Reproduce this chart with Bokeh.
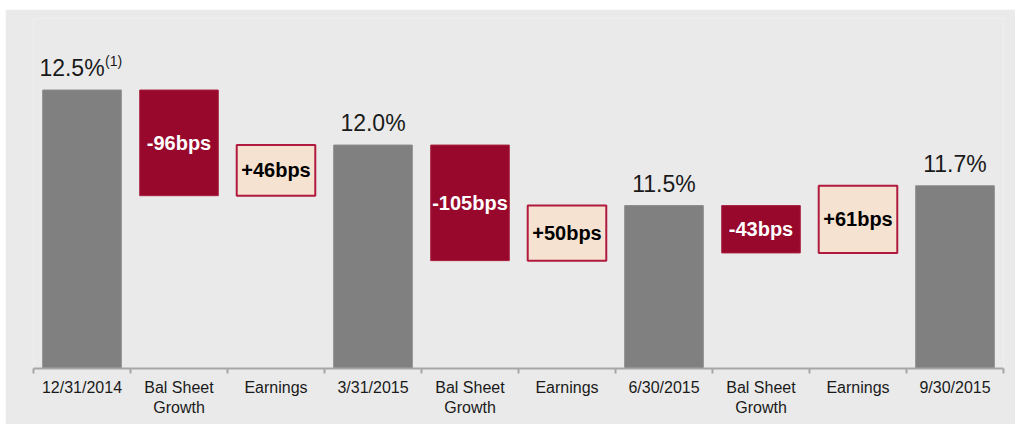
from bokeh.plotting import figure
from bokeh.models import Range1d, FixedTicker, ColumnDataSource, Spacer
from bokeh.layouts import column, row
from bokeh.core.properties import value
from bokeh.embed import file_html
from bokeh.resources import INLINE

# ---- data ----
categories = ["12/31/2014", "Bal Sheet\nGrowth", "Earnings", "3/31/2015", "Bal Sheet\nGrowth",
              "Earnings", "6/30/2015", "Bal Sheet\nGrowth", "Earnings", "9/30/2015"]
start_ratio = 12.5
changes_bps = [-96, 46, -105, 50, -43, 61]
total_labels = ["12.5%", "12.0%", "11.5%", "11.7%"]
footnote = "(1)"

# ---- build waterfall ----
FONT = "Liberation Sans"
GRAY = "#808080"
RED = "#98082C"
PEACH = "#F6E2D0"
BG = "#EAEAEA"

tot_x, tot_top = [], []
neg_x, neg_top, neg_bot, neg_lbl, neg_mid = [], [], [], [], []
pos_x, pos_top, pos_bot, pos_lbl, pos_mid = [], [], [], [], []
level = start_ratio
tot_x.append(0); tot_top.append(level)
idx = 1
for k, ch in enumerate(changes_bps):
    new = level + ch / 100.0
    lo, hi = min(level, new), max(level, new)
    lbl = ("+" if ch > 0 else "-") + f"{abs(ch)}bps"
    if ch < 0:
        neg_x.append(idx); neg_top.append(hi); neg_bot.append(lo); neg_lbl.append(lbl); neg_mid.append((lo + hi) / 2)
    else:
        pos_x.append(idx); pos_top.append(hi); pos_bot.append(lo); pos_lbl.append(lbl); pos_mid.append((lo + hi) / 2)
    level = new
    idx += 1
    if k % 2 == 1:
        tot_x.append(idx); tot_top.append(level)
        idx += 1

p = figure(width=1010, height=415, output_backend="svg", toolbar_location=None,
           x_range=Range1d(-0.5, 9.5), y_range=Range1d(9.97, 13.15),
           min_border_left=28, min_border_right=12, min_border_top=9, min_border_bottom=56)
p.background_fill_color = BG
p.border_fill_color = BG
p.outline_line_color = None
p.grid.visible = False
p.yaxis.visible = False

W = 0.81
p.vbar(x=tot_x, top=tot_top, bottom=0, width=W, fill_color=GRAY, line_color="#8a8a8a", line_width=1)
p.vbar(x=neg_x, top=neg_top, bottom=neg_bot, width=W, fill_color=RED, line_color="#a8203f", line_width=1)
p.vbar(x=pos_x, top=pos_top, bottom=pos_bot, width=W, fill_color=PEACH, line_color="#B01A3E", line_width=2)

# value labels on totals
xoff = [0] * len(tot_x)
xoff[0] = -10
tsrc = ColumnDataSource(dict(x=tot_x, y=tot_top, t=total_labels, xo=xoff))
p.text(x="x", y="y", text="t", source=tsrc, text_font=value(FONT), text_font_size="23px",
       text_color="#1a1a1a", text_align="center", text_baseline="alphabetic", y_offset=-22,
       x_offset="xo")
# footnote marker on first total
p.text(x=[tot_x[0]], y=[tot_top[0]], text=[footnote], text_font=value(FONT), text_font_size="14px",
       text_color="#1a1a1a", text_align="left", text_baseline="alphabetic", x_offset=23, y_offset=-29)

p.text(x=neg_x, y=neg_mid, text=neg_lbl, text_font=value(FONT), text_font_size="20px",
       text_font_style="bold", text_color="white", text_align="center", text_baseline="middle")
p.text(x=pos_x, y=pos_mid, text=pos_lbl, text_font=value(FONT), text_font_size="20px",
       text_font_style="bold", text_color="black", text_align="center", text_baseline="middle")

ax = p.xaxis[0]
ax.ticker = FixedTicker(ticks=list(range(len(categories))),
                        minor_ticks=[i - 0.5 for i in range(len(categories) + 1)])
ax.major_label_overrides = {i: c for i, c in enumerate(categories)}
ax.major_tick_line_color = None
ax.major_tick_out = 0
ax.major_tick_in = 0
ax.minor_tick_line_color = "#a6a6a6"
ax.minor_tick_line_width = 2
ax.minor_tick_out = 5
ax.minor_tick_in = 0
ax.axis_line_color = "#a6a6a6"
ax.axis_line_width = 2
ax.major_label_text_font = FONT
ax.major_label_text_font_size = "16px"
ax.major_label_text_color = "#1a1a1a"
ax.major_label_standoff = 5

layout = column(Spacer(height=9), row(Spacer(width=5), p))
open("out.html", "w").write(file_html(layout, INLINE))
